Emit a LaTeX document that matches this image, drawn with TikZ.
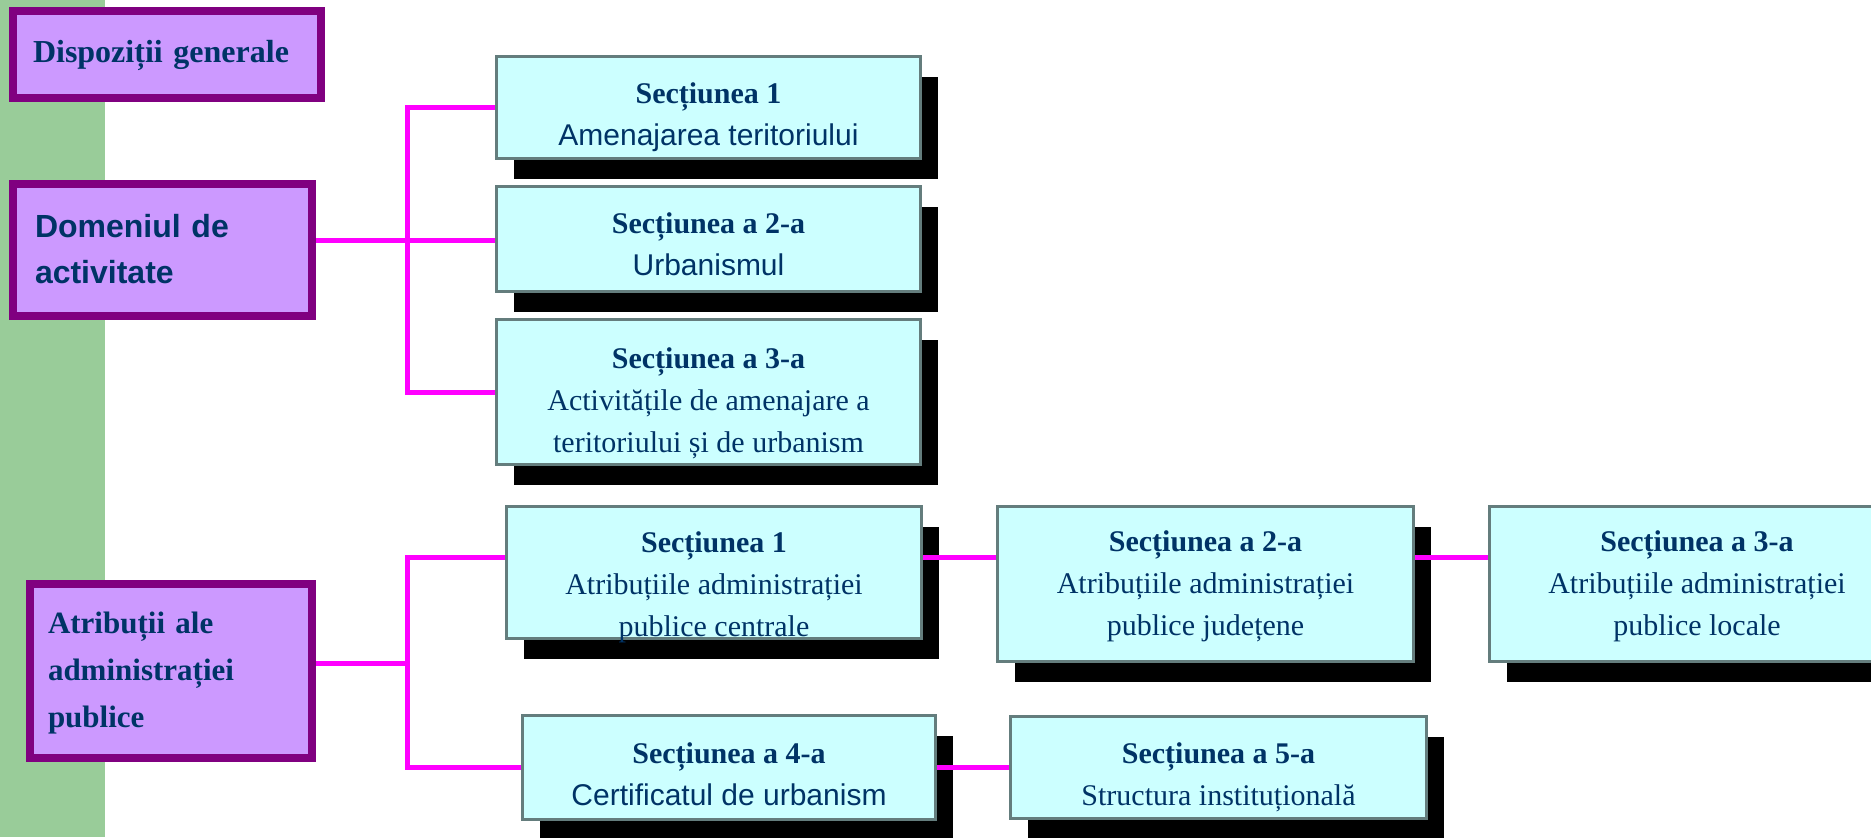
\documentclass[tikz,border=0pt]{standalone}
\usepackage{fontspec}
\setmainfont{Liberation Serif}
\newfontfamily\arialfont{Liberation Sans}
\usepackage{xcolor}
\usepackage{tikz}
\usetikzlibrary{shadows}

\definecolor{barGreen}{RGB}{153,204,153}
\definecolor{grpLine}{RGB}{128,0,128}
\definecolor{grpFill}{RGB}{204,153,255}
\definecolor{secFill}{RGB}{204,255,255}
\definecolor{secLine}{RGB}{100,125,125}
\definecolor{linkPink}{RGB}{255,0,255}
\definecolor{navy}{RGB}{0,51,102}

\begin{document}
\begin{tikzpicture}[x=0.5pt, y=-0.5pt,
    grp/.style={draw=grpLine, line width=4pt, fill=grpFill, text=navy, align=left, inner ysep=0pt, text height=12pt},
    sec/.style={draw=secLine, line width=1.5pt, fill=secFill, text=navy, align=center, inner sep=0pt,
        font=\fontsize{15}{21}\selectfont, text depth=0pt,
        drop shadow={shadow xshift=8.5pt, shadow yshift=-10pt, fill=black, opacity=1}},
    link/.style={draw=linkPink, line width=2.5pt}]
    \useasboundingbox (0,0) rectangle (1871,837);
    \clip (0,0) rectangle (1871,837);
    \fill[barGreen] (0,0) rectangle (105,837);

    % left column
    \node[grp, text width=134pt, inner xsep=10pt, minimum height=43.5pt, text depth=4.5pt,
        font=\fontsize{16}{23}\selectfont\bfseries] (gen) at (167,54.5) {Dispoziții generale};
    \node[grp, text width=127.5pt, inner xsep=11pt, minimum height=66pt, text depth=25pt,
        font=\fontsize{16}{23}\selectfont\arialfont\bfseries] (dom) at (162.5,250) {Domeniul de\\activitate};
    \node[grp, text width=123pt, inner xsep=9pt, minimum height=87pt, text depth=50pt,
        font=\fontsize{15.5}{23.5}\selectfont\bfseries] (atr) at (171,671) {Atribuții ale\\administrației\\publice};

    % sections
    \node[sec, minimum width=212pt, minimum height=51pt, text height=37.5pt] (s1) at (708.5,107.5)
        {\textbf{Secțiunea 1}\\{\arialfont Amenajarea teritoriului}};
    \node[sec, minimum width=212pt, minimum height=52.5pt, text height=36pt] (s2) at (708.5,239)
        {\textbf{Secțiunea a 2-a}\\{\arialfont Urbanismul}};
    \node[sec, minimum width=212pt, minimum height=72.5pt, text height=60pt] (s3) at (708.5,392)
        {\textbf{Secțiunea a 3-a}\\Activitățile de amenajare a\\teritoriului și de urbanism};
    \node[sec, minimum width=207.5pt, minimum height=66pt, text height=63.5pt] (a1) at (714,572.5)
        {\textbf{Secțiunea 1}\\Atribuțiile administrației\\publice centrale};
    \node[sec, minimum width=208pt, minimum height=77.5pt, text height=51pt] (a2) at (1205.5,584)
        {\textbf{Secțiunea a 2-a}\\Atribuțiile administrației\\publice județene};
    \node[sec, minimum width=207.5pt, minimum height=77.5pt, text height=51pt] (a3) at (1697,584)
        {\textbf{Secțiunea a 3-a}\\Atribuțiile administrației\\publice locale};
    \node[sec, minimum width=206.5pt, minimum height=52pt, text height=37.5pt] (s4) at (729,767.5)
        {\textbf{Secțiunea a 4-a}\\{\arialfont Certificatul de urbanism}};
    \node[sec, minimum width=208pt, minimum height=51pt, text height=37.5pt] (s5) at (1218.5,767.5)
        {\textbf{Secțiunea a 5-a}\\Structura instituțională};

    % connectors
    \coordinate (jt) at (407,240);
    \coordinate (jb) at (407,663);
    \coordinate (rowb) at (0,557);
    \draw[link] (s1.west) -| (jt) |- (s3.west);
    \draw[link] (dom.east |- jt) -- (s2.west |- jt);
    \draw[link] (a1.west |- rowb) -| (jb) |- (s4.west);
    \draw[link] (atr.east |- jb) -- (jb);
    \draw[link] (a1.east |- rowb) -- (a2.west |- rowb);
    \draw[link] (a2.east |- rowb) -- (a3.west |- rowb);
    \draw[link] (s4) -- (s5);
\end{tikzpicture}
\end{document}
